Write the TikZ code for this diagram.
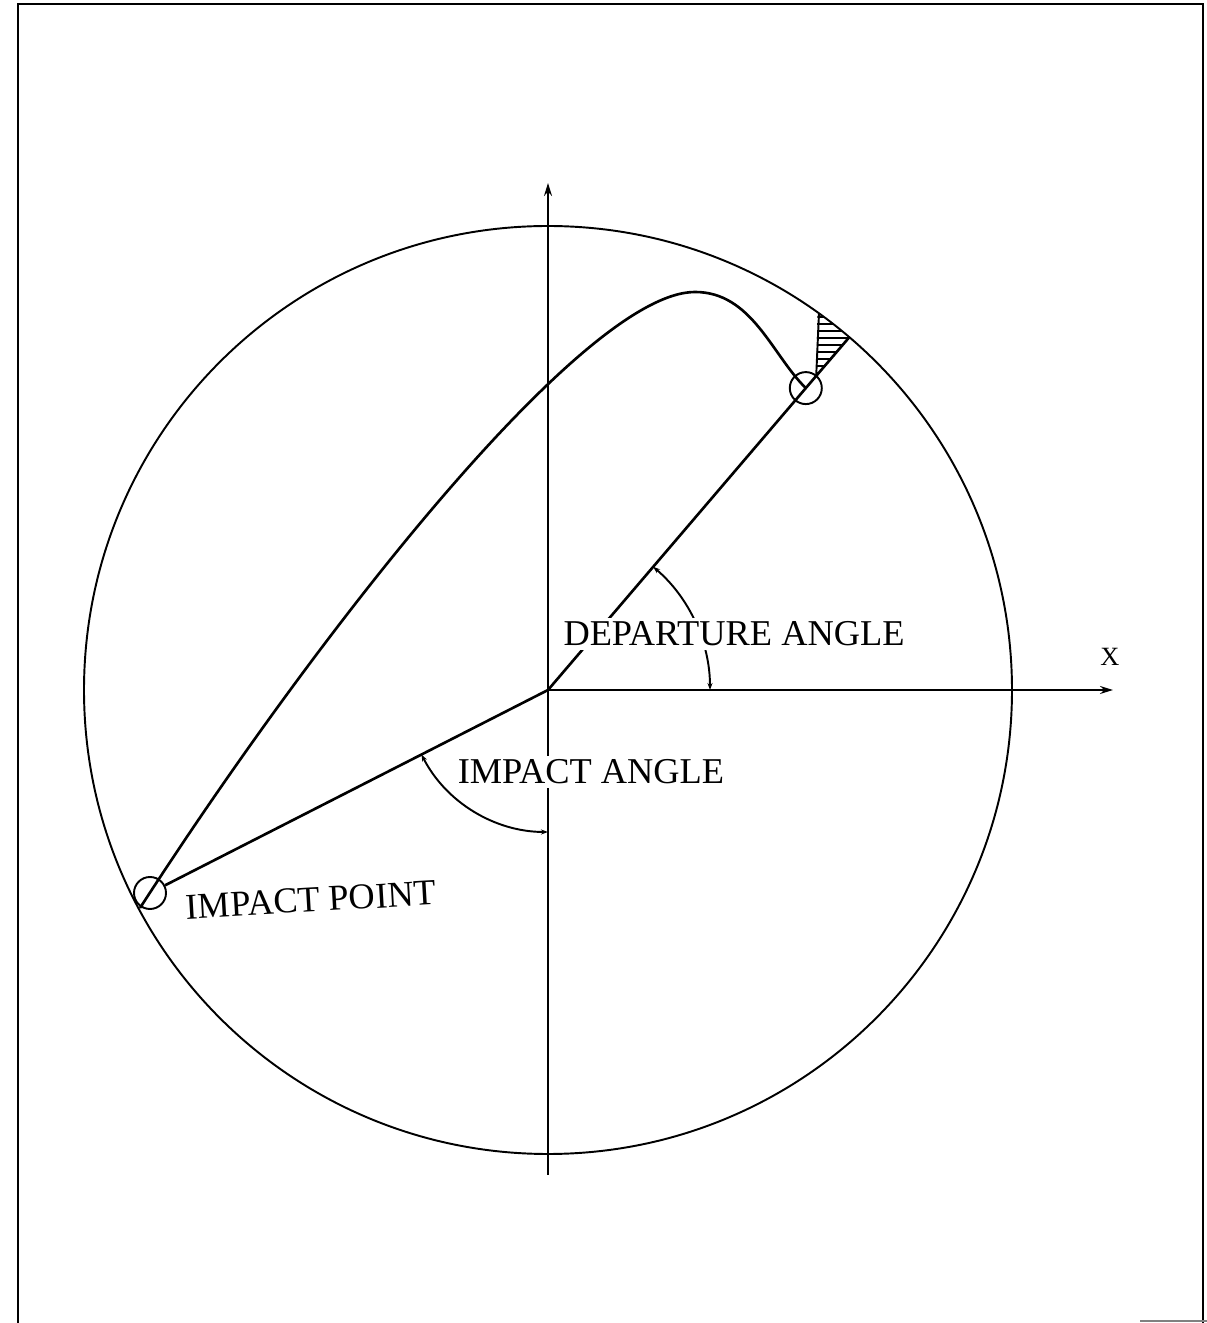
\documentclass[tikz,border=0pt]{standalone}
\usepackage{fontspec}
\setmainfont{Liberation Serif}
\usetikzlibrary{arrows.meta}
\begin{document}
\begin{tikzpicture}[x=0.02cm,y=0.02cm,
  frameline/.style={line width=1.3pt},
  thinline/.style={line width=1.1pt},
  thickline/.style={line width=1.5pt},
  lbl/.style={font=\fontsize{20.7}{24}\selectfont, fill=white, inner sep=2pt},
  axistip/.style={-{Stealth[length=0.26cm,width=0.16cm]}},
  angtip/.style={{Stealth[length=0.14cm,width=0.1cm]}-{Stealth[length=0.14cm,width=0.1cm]}},
  marker/.style={draw, circle, minimum size=32*0.02cm, inner sep=0pt, line width=1.1pt}]
\useasboundingbox (0,0) rectangle (1207,1323);
% frame
\draw[frameline] (18,0) -- (18,1319) -- (1203,1319) -- (1203,0);
\draw[line width=0.6pt, gray] (1140,2) -- (1207,2);
% geometry
\coordinate (O) at (548,633);
\draw[thinline] (O) circle (464);
% axes
\coordinate (ybot) at (548,148);
\coordinate (ytop) at (548,1140);
\coordinate (xend) at (1113,633);
\draw[thinline, axistip] (ybot) -- (ytop);
\draw[thinline, axistip] (O) -- (xend);
\node[font=\fontsize{15}{18}\selectfont] (xlab) at (1110,666) {X};
% departure line and marker
\node[marker] (dep) at (805.8,934.9) {};
\coordinate (depout) at (849.3,985.8);
\draw[thickline] (O) -- (dep.center) -- (depout);
% hatched region
\begin{scope}
  \clip (O) circle (464);
  \clip (816.2,947) -- (819,1100) -- (950,1100) -- (885.7,1028.4) -- cycle;
  \foreach \yy in {950,957,...,1015} { \draw[line width=0.9pt] (800,\yy) -- (900,\yy); }
\end{scope}
\coordinate (hatchbot) at (816.2,947);
\coordinate (hatchtop) at (819,1009.6);
\draw[thinline] (hatchbot) -- (hatchtop);
% impact line and marker
\node[marker] (imp) at (150,430) {};
\draw[thickline] (O) -- (imp);
% trajectory
\coordinate (tstart) at (140,415);
\coordinate (tpeak) at (695,1031);
\draw[thickline] (tstart) .. controls (320,694) and (585,1031) .. (tpeak)
  .. controls (752,1031) and (772,968) .. (dep.center);
% angle arcs
\draw[thinline, angtip] ([shift={(49.5:162)}]O) arc[start angle=49.5, end angle=0, radius=162];
\draw[thinline, angtip] ([shift={(207:142)}]O) arc[start angle=207, end angle=270, radius=142];
% labels
\node[lbl] (deplab) at (734,689) {DEPARTURE ANGLE};
\node[lbl] (implab) at (591,551) {IMPACT ANGLE};
\node[font=\fontsize{20.7}{24}\selectfont, rotate=3.3] (ptlab) at (311,423) {IMPACT POINT};
\end{tikzpicture}
\end{document}
